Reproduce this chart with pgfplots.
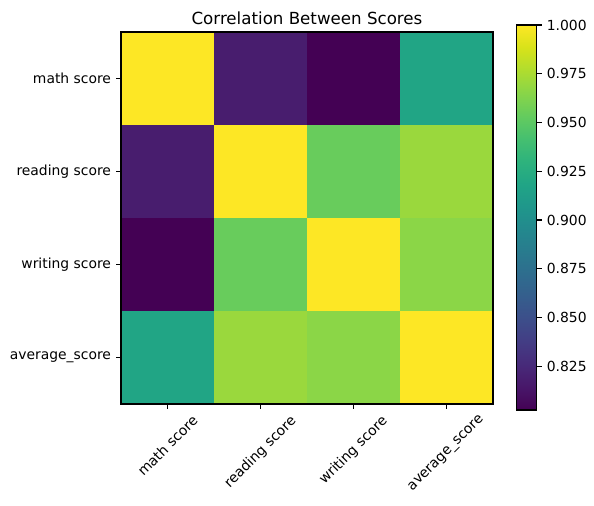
\documentclass[border=0pt]{standalone}
\usepackage{pgfplots}
\pgfplotsset{compat=1.18}
\usepackage{fontspec}
\setmainfont{DejaVu Sans}
\usepackage{graphicx}
\usetikzlibrary{calc}
\begin{document}
\begin{tikzpicture}[x=0.72pt,y=0.72pt]
\begin{axis}[
  name=ax,
  scale only axis,
  width=267.84pt, height=267.84pt,
  xmin=-0.5, xmax=3.5, ymin=-0.5, ymax=3.5,
  y dir=reverse,
  axis on top,
  axis line style={line width=0.8pt},
  every tick/.style={line width=0.8pt, black},
  major tick length=3.5pt,
  tick align=outside,
  xtick pos=lower, ytick pos=left,
  xtick={0,1,2,3}, ytick={0,1,2,3},
  xticklabels={\rotatebox{45}{math score},\rotatebox{45}{reading score},\rotatebox{45}{writing score},\rotatebox{45}{average\_score}},
  yticklabels={math score,reading score,writing score,average\_score},
  x tick label style={anchor=north, inner sep=0pt, yshift=-3.5pt},
  y tick label style={anchor=east, inner sep=0pt, xshift=-3.5pt},
  title={Correlation Between Scores},
  title style={font=\fontsize{12}{14}\selectfont, yshift=-4pt},
  colormap/viridis,
  point meta min=0.8026, point meta max=1.0,
  colorbar,
  colorbar style={
    width=14.4pt, height=277.2pt,
    at={($(parent axis.north east)+(8.64pt,5.04pt)$)}, anchor=north west,
    axis line style={line width=0.8pt},
    ytick={0.825,0.850,0.875,0.900,0.925,0.950,0.975,1.000},
    ytick pos=right, yticklabel pos=right,
    tick align=outside,
    major tick length=3.5pt,
    every tick/.style={line width=0.8pt, black},
    /pgf/number format/fixed,
    /pgf/number format/fixed zerofill,
    /pgf/number format/precision=3,
    /pgf/number format/assume math mode=true,
    y tick label style={anchor=west, inner sep=0pt, xshift=3.5pt},
  },
]
\addplot[matrix plot*, mesh/cols=4, point meta=explicit] coordinates {
  (0,0) [1.0000] (1,0) [0.8176] (2,0) [0.8026] (3,0) [0.9188]
  (0,1) [0.8176] (1,1) [1.0000] (2,1) [0.9546] (3,1) [0.9703]
  (0,2) [0.8026] (1,2) [0.9546] (2,2) [1.0000] (3,2) [0.9658]
  (0,3) [0.9188] (1,3) [0.9703] (2,3) [0.9658] (3,3) [1.0000]
};
\end{axis}
\path ($(ax.south west)+(-121,-101)$) rectangle ($(ax.north east)+(101,32)$);
\end{tikzpicture}
\end{document}
